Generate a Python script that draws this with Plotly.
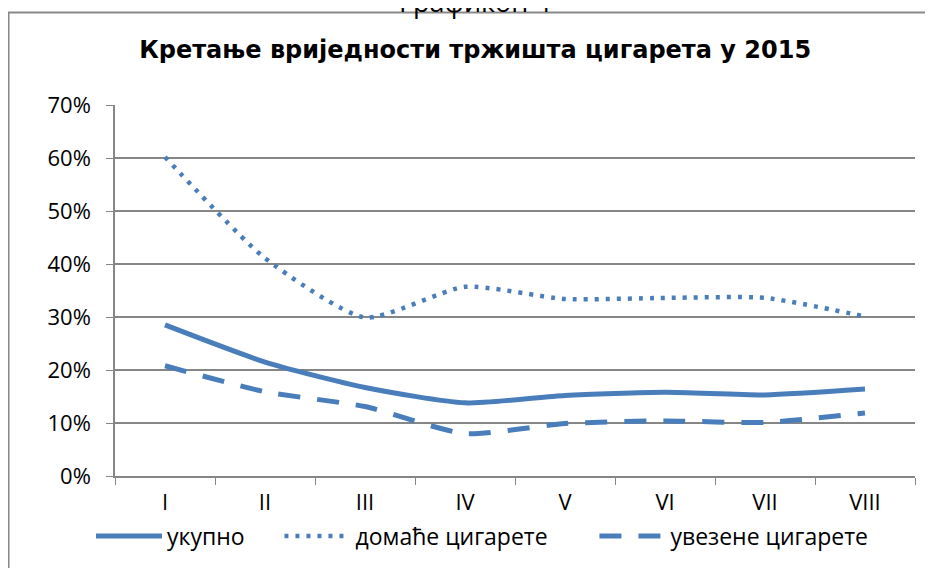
import plotly.graph_objects as go

months = ["I", "II", "III", "IV", "V", "VI", "VII", "VIII"]
ukupno = [0.285, 0.215, 0.167, 0.138, 0.152, 0.158, 0.153, 0.164]
domace = [0.602, 0.411, 0.299, 0.357, 0.334, 0.336, 0.336, 0.301]
uvezene = [0.208, 0.159, 0.131, 0.080, 0.099, 0.104, 0.101, 0.119]
yticks = [0, 0.1, 0.2, 0.3, 0.4, 0.5, 0.6, 0.7]
ytick_text = ["0%", "10%", "20%", "30%", "40%", "50%", "60%", "70%"]

blue = "#4a7ebb"
NB = "\u00a0"
fig = go.Figure()
fig.add_trace(go.Scatter(x=months, y=ukupno, name="укупно" + NB * 5, mode="lines",
                         line=dict(color=blue, width=5, shape="spline", smoothing=0.6)))
fig.add_trace(go.Scatter(x=months, y=domace, name="домаће цигарете" + NB * 7, mode="lines",
                         line=dict(color=blue, width=4.5, shape="spline", smoothing=0.6, dash="4px,7px")))
fig.add_trace(go.Scatter(x=months, y=uvezene, name="увезене цигарете", mode="lines",
                         line=dict(color=blue, width=5, shape="spline", smoothing=0.6, dash="22px,17px")))

font = "Open Sans, Arial, sans-serif"
fig.update_layout(
    width=925, height=560,
    margin=dict(l=107, r=18, t=97, b=91),
    paper_bgcolor="white", plot_bgcolor="white",
    font=dict(family=font, size=22, color="black"),
    title=dict(text="<b>Кретање вриједности тржишта цигарета у 2015</b>",
               x=0.505, xanchor="center", y=0.925, yanchor="middle",
               font=dict(family="DejaVu Sans, Arial, sans-serif", size=24, color="black")),
    showlegend=True,
    legend=dict(orientation="h", x=-0.030, xanchor="left", y=-0.159, yanchor="middle",
                font=dict(family=font, size=23), itemwidth=66, traceorder="normal"),
    xaxis=dict(type="category", showline=True, linecolor="#868686", linewidth=1.5,
               ticks="outside", tickson="boundaries", ticklen=7, tickcolor="#868686",
               showgrid=False, tickfont=dict(family=font, size=22), range=[-0.5, 7.5],
               ticklabelstandoff=6),
    yaxis=dict(range=[0, 0.7], tickvals=yticks, ticktext=ytick_text,
               showline=True, linecolor="#868686", linewidth=1.5,
               ticks="outside", ticklen=7, tickcolor="#868686",
               showgrid=True, gridcolor="#868686", gridwidth=1.5,
               zeroline=False, tickfont=dict(family=font, size=22), ticklabelstandoff=11),
)
fig.add_shape(type="rect", xref="paper", yref="paper",
              x0=-0.1331, x1=1.05, y0=-0.3, y1=1.249,
              line=dict(color="#898989", width=2))
fig.add_annotation(text="Графикон 4", xref="paper", yref="paper",
                   x=0.45, y=1.280, xanchor="center", yanchor="middle",
                   showarrow=False, font=dict(family=font, size=27))
fig.write_html("out.html")
